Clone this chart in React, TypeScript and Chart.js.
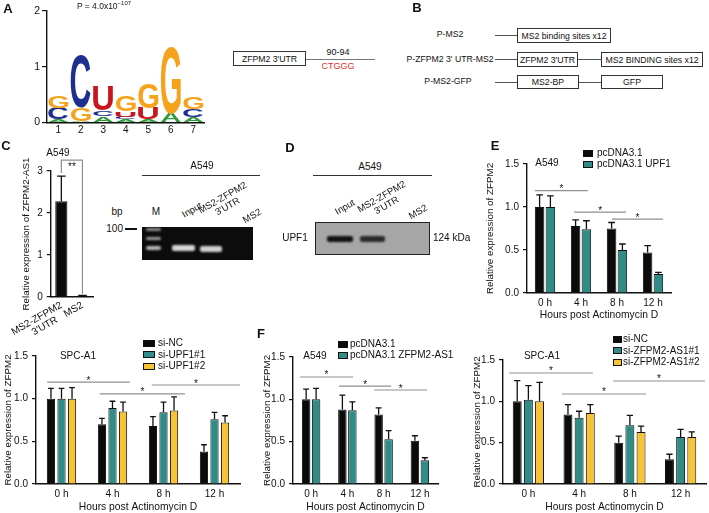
import React, { useEffect, useRef } from "react";
import { Chart, registerables } from "chart.js";

Chart.register(...registerables);

const FONT = '"Liberation Sans", Arial, Helvetica, sans-serif';
const INK = "#111111";
const BLACK_BAR = "#0b0b0b";
const TEAL = "#2f8c86";
const YELLOW = "#f6c434";
const SIG_GRAY = "#8f8f8f";
const LETTER_COLORS: Record<string, string> = { A: "#2f9a3a", C: "#1f2f8f", G: "#f5a31c", U: "#c8161e" };

// ---------- Panel A: sequence logo ----------
const logoPositions = ["1", "2", "3", "4", "5", "6", "7"];
const logoLetters = [
  ["A", "C", "G"],
  ["A", "G", "C"],
  ["A", "C", "U"],
  ["A", "C", "U", "G"],
  ["A", "U", "G"],
  ["A", "G"],
  ["A", "C", "G"],
];
const logoHeights = [
  [0.06, 0.2, 0.22],
  [0.02, 0.24, 0.95],
  [0.11, 0.1, 0.43],
  [0.06, 0.04, 0.1, 0.27],
  [0.06, 0.2, 0.44],
  [0.16, 1.2],
  [0.1, 0.14, 0.21],
];

// ---------- Panel C: bar ----------
const cCategories: (string | string[])[] = [["MS2-ZFPM2", "3'UTR    "], "MS2"];
const cMeans = [2.28, 0.03];
const cErrors = [0.6, 0.01];

// ---------- time-course panels ----------
const hourLabels = ["0 h", "4 h", "8 h", "12 h"];

const eNames = ["pcDNA3.1", "pcDNA3.1 UPF1"];
const eCtrl = [1.0, 0.78, 0.75, 0.47];
const eCtrlErr = [0.14, 0.07, 0.07, 0.08];
const eUpf1 = [1.0, 0.74, 0.5, 0.22];
const eUpf1Err = [0.13, 0.1, 0.07, 0.02];

const gNames = ["si-NC", "si-UPF1#1", "si-UPF1#2"];
const gNC = [1.0, 0.7, 0.68, 0.38];
const gNCErr = [0.12, 0.07, 0.11, 0.08];
const gU1 = [1.0, 0.89, 0.84, 0.76];
const gU1Err = [0.12, 0.08, 0.12, 0.08];
const gU2 = [1.0, 0.85, 0.86, 0.72];
const gU2Err = [0.13, 0.11, 0.16, 0.08];

const fNames = ["pcDNA3.1", "pcDNA3.1 ZFPM2-AS1"];
const fCtrl = [1.0, 0.88, 0.82, 0.51];
const fCtrlErr = [0.12, 0.17, 0.08, 0.06];
const fAS1 = [1.0, 0.87, 0.53, 0.28];
const fAS1Err = [0.13, 0.1, 0.1, 0.03];

const hNames = ["si-NC", "si-ZFPM2-AS1#1", "si-ZFPM2-AS1#2"];
const hNC = [1.0, 0.84, 0.5, 0.3];
const hNCErr = [0.25, 0.12, 0.08, 0.06];
const hA1 = [1.02, 0.8, 0.71, 0.57];
const hA1Err = [0.17, 0.08, 0.12, 0.09];
const hA2 = [1.0, 0.86, 0.63, 0.57];
const hA2Err = [0.23, 0.1, 0.07, 0.06];

type Series = { name: string; values: number[]; errors: number[]; color: string };
type Sig = { from: number; to: number; y: number; text: string };
type Bracket = { from: number; to: number; y: number; leftEnd: number; rightEnd: number; text: string };
type BarSpec = {
  canvas: [number, number, number, number];
  area: [number, number, number, number];
  labels: (string | string[])[];
  series: Series[];
  yMax: number;
  yStep: number;
  yDec: number;
  yTitle: string;
  yTitleX: number;
  xTitle?: string;
  xTitleY?: number;
  catPct: number;
  barPct: number;
  xRotation?: number;
  sigs?: Sig[];
  bracket?: Bracket;
};

function makeBarChart(canvas: HTMLCanvasElement, p: BarSpec) {
  const [cx, cy, cw, ch] = p.canvas;
  const [L, T, R, B] = p.area;
  const tickSize = 10;
  const titleSize = 9.8;
  const titleLH = titleSize * 1.2;
  const annot = {
    id: "annot",
    afterDatasetsDraw(chart: any) {
      const ctx = chart.ctx as CanvasRenderingContext2D;
      const xs = chart.scales.x;
      const ys = chart.scales.y;
      ctx.save();
      p.series.forEach((s, di) => {
        const meta = chart.getDatasetMeta(di);
        meta.data.forEach((el: any, i: number) => {
          const err = s.errors[i];
          if (!err) return;
          const yTop = ys.getPixelForValue(s.values[i] + err);
          const yBar = ys.getPixelForValue(s.values[i]);
          const cap = Math.max(4, el.width * 0.7);
          ctx.strokeStyle = INK;
          ctx.lineWidth = 1.3;
          ctx.beginPath();
          ctx.moveTo(el.x, yBar);
          ctx.lineTo(el.x, yTop);
          ctx.moveTo(el.x - cap / 2, yTop);
          ctx.lineTo(el.x + cap / 2, yTop);
          ctx.stroke();
        });
      });
      (p.sigs || []).forEach((s) => {
        const x1 = xs.getPixelForValue(s.from);
        const x2 = xs.getPixelForValue(s.to);
        const y = ys.getPixelForValue(s.y);
        ctx.strokeStyle = SIG_GRAY;
        ctx.lineWidth = 1.2;
        ctx.beginPath();
        ctx.moveTo(x1, y);
        ctx.lineTo(x2, y);
        ctx.stroke();
        ctx.fillStyle = INK;
        ctx.font = `10px ${FONT}`;
        ctx.textAlign = "center";
        ctx.textBaseline = "alphabetic";
        ctx.fillText(s.text, (x1 + x2) / 2, y + 1.5);
      });
      if (p.bracket) {
        const b = p.bracket;
        const x1 = xs.getPixelForValue(b.from);
        const x2 = xs.getPixelForValue(b.to);
        const y = ys.getPixelForValue(b.y);
        ctx.strokeStyle = SIG_GRAY;
        ctx.lineWidth = 1.2;
        ctx.beginPath();
        ctx.moveTo(x1, ys.getPixelForValue(b.leftEnd));
        ctx.lineTo(x1, y);
        ctx.lineTo(x2, y);
        ctx.lineTo(x2, ys.getPixelForValue(b.rightEnd));
        ctx.stroke();
        ctx.fillStyle = INK;
        ctx.font = `10px ${FONT}`;
        ctx.textAlign = "center";
        ctx.textBaseline = "alphabetic";
        ctx.fillText(b.text, (x1 + x2) / 2, y + 10);
      }
      ctx.restore();
    },
  };
  const rot = p.xRotation || 0;
  return new Chart(canvas, {
    type: "bar",
    data: {
      labels: p.labels as any,
      datasets: p.series.map((s) => ({
        label: s.name,
        data: s.values,
        backgroundColor: s.color,
        borderColor: INK,
        borderWidth: 1,
        categoryPercentage: p.catPct,
        barPercentage: p.barPct,
      })),
    },
    options: {
      responsive: false,
      animation: false,
      devicePixelRatio: 1,
      layout: { padding: { left: 0, top: T - cy, right: cx + cw - R, bottom: 0 } },
      plugins: { legend: { display: false }, tooltip: { enabled: false }, title: { display: false } },
      scales: {
        x: {
          grid: { display: false, drawTicks: false },
          border: { display: true, color: INK, width: 1.4 },
          ticks: {
            color: INK,
            font: { family: FONT, size: tickSize, lineHeight: 1.05 },
            padding: rot ? 3 : 5,
            autoSkip: false,
            maxRotation: rot,
            minRotation: rot,
          },
          title: p.xTitle
            ? {
                display: true,
                text: p.xTitle,
                color: INK,
                font: { family: FONT, size: 10.3 },
                padding: { top: 0, bottom: Math.max(0, cy + ch - (p.xTitleY || 0) - 6) },
              }
            : { display: false },
          afterFit: (s: any) => {
            s.height = cy + ch - B;
          },
        },
        y: {
          min: 0,
          max: p.yMax,
          grid: { display: true, drawOnChartArea: false, drawTicks: true, tickLength: 4, color: INK, lineWidth: 1.2 },
          border: { display: true, color: INK, width: 1.4 },
          ticks: {
            stepSize: p.yStep,
            color: INK,
            font: { family: FONT, size: tickSize },
            padding: 4,
            callback: (v: any) => Number(v).toFixed(p.yDec),
          },
          title: {
            display: true,
            text: p.yTitle,
            color: INK,
            font: { family: FONT, size: titleSize },
            padding: { top: p.yTitleX - cx - titleLH / 2, bottom: 0 },
          },
          afterFit: (s: any) => {
            s.width = L - cx;
          },
        },
      },
    } as any,
    plugins: [annot],
  });
}

function drawLetter(ctx: CanvasRenderingContext2D, ch: string, x: number, y: number, w: number, h: number, color: string) {
  if (h < 0.5 || w < 0.5) return;
  ctx.save();
  ctx.font = `bold 100px ${FONT}`;
  ctx.textAlign = "left";
  ctx.textBaseline = "alphabetic";
  const m = ctx.measureText(ch);
  const gw = m.actualBoundingBoxLeft + m.actualBoundingBoxRight;
  const gh = m.actualBoundingBoxAscent + m.actualBoundingBoxDescent;
  ctx.translate(x, y);
  ctx.scale(w / gw, h / gh);
  ctx.fillStyle = color;
  ctx.fillText(ch, m.actualBoundingBoxLeft, m.actualBoundingBoxAscent);
  ctx.restore();
}

function makeLogo(canvas: HTMLCanvasElement) {
  const [cx, cy, cw, ch] = [0, 0, 230, 140];
  const [L, T, R, B] = [47, 11, 204.5, 122.5];
  const nLayers = Math.max(...logoHeights.map((a) => a.length));
  const datasets = Array.from({ length: nLayers }, (_, k) => ({
    label: "layer" + k,
    data: logoHeights.map((a) => a[k] ?? 0),
    backgroundColor: "rgba(0,0,0,0)",
    borderWidth: 0,
    categoryPercentage: 0.96,
    barPercentage: 0.92,
  }));
  const letters = {
    id: "letters",
    afterDatasetsDraw(chart: any) {
      const ctx = chart.ctx as CanvasRenderingContext2D;
      for (let k = 0; k < nLayers; k++) {
        const meta = chart.getDatasetMeta(k);
        meta.data.forEach((el: any, i: number) => {
          const letter = logoLetters[i][k];
          if (!letter) return;
          const top = Math.min(el.y, el.base);
          const h = Math.abs(el.base - el.y);
          drawLetter(ctx, letter, el.x - el.width / 2, top, el.width, h, LETTER_COLORS[letter]);
        });
      }
    },
  };
  return new Chart(canvas, {
    type: "bar",
    data: { labels: logoPositions, datasets },
    options: {
      responsive: false,
      animation: false,
      devicePixelRatio: 1,
      layout: { padding: { left: 0, top: T - cy, right: cx + cw - R, bottom: 0 } },
      plugins: { legend: { display: false }, tooltip: { enabled: false } },
      scales: {
        x: {
          stacked: true,
          grid: { display: false, drawTicks: false },
          border: { display: true, color: INK, width: 1.4 },
          ticks: { color: INK, font: { family: FONT, size: 10 }, padding: 2 },
          afterFit: (s: any) => {
            s.height = cy + ch - B;
          },
        },
        y: {
          stacked: true,
          min: 0,
          max: 2,
          grid: { display: true, drawOnChartArea: false, tickLength: 5, color: INK, lineWidth: 1.2 },
          border: { display: true, color: INK, width: 1.4 },
          ticks: { stepSize: 1, color: INK, font: { family: FONT, size: 10.5 }, padding: 2 },
          afterFit: (s: any) => {
            s.width = L - cx;
          },
        },
      },
    } as any,
    plugins: [letters],
  });
}

function ChartCanvas({ x, y, w, h, make }: { x: number; y: number; w: number; h: number; make: (c: HTMLCanvasElement) => Chart }) {
  const ref = useRef<HTMLCanvasElement>(null);
  useEffect(() => {
    const chart = make(ref.current as HTMLCanvasElement);
    return () => chart.destroy();
  }, []);
  return <canvas ref={ref} width={w} height={h} style={{ position: "absolute", left: x, top: y, width: w, height: h }} />;
}

function BarPanel({ spec }: { spec: BarSpec }) {
  const [x, y, w, h] = spec.canvas;
  return <ChartCanvas x={x} y={y} w={w} h={h} make={(c) => makeBarChart(c, spec)} />;
}

function Txt({
  x,
  y,
  t,
  size = 10,
  bold = false,
  color = INK,
  anchor = "middle",
  rot = 0,
}: {
  x: number;
  y: number;
  t: React.ReactNode;
  size?: number;
  bold?: boolean;
  color?: string;
  anchor?: "start" | "middle" | "end";
  rot?: number;
}) {
  const tx = anchor === "middle" ? "-50%" : anchor === "end" ? "-100%" : "0";
  return (
    <div
      style={{
        position: "absolute",
        left: x,
        top: y,
        transform: `translate(${tx}, -50%) rotate(${rot}deg)`,
        fontFamily: FONT,
        fontSize: size,
        fontWeight: bold ? 700 : 400,
        color,
        whiteSpace: "pre",
        lineHeight: 1.05,
        textAlign: "center",
      }}
    >
      {t}
    </div>
  );
}

function Rect({ x1, y1, x2, y2, style }: { x1: number; y1: number; x2: number; y2: number; style?: React.CSSProperties }) {
  return <div style={{ position: "absolute", left: x1, top: y1, width: x2 - x1, height: y2 - y1, boxSizing: "border-box", ...style }} />;
}

function HLine({ x1, x2, y, color = "#555", w = 1 }: { x1: number; x2: number; y: number; color?: string; w?: number }) {
  return <div style={{ position: "absolute", left: x1, top: y - w / 2, width: x2 - x1, height: w, background: color }} />;
}

function BoxLabel({ x1, y1, x2, y2, t }: { x1: number; y1: number; x2: number; y2: number; t: string }) {
  return (
    <div
      style={{
        position: "absolute",
        left: x1,
        top: y1,
        width: x2 - x1,
        height: y2 - y1,
        boxSizing: "border-box",
        border: "1.2px solid #333",
        display: "flex",
        alignItems: "center",
        justifyContent: "center",
        fontFamily: FONT,
        fontSize: 8.7,
        color: INK,
        whiteSpace: "pre",
      }}
    >
      {t}
    </div>
  );
}

function Legend({ names, colors, x, sw, sh, tx, ys }: { names: string[]; colors: string[]; x: number; sw: number; sh: number; tx: number; ys: number[] }) {
  return (
    <>
      {names.map((n, i) => (
        <React.Fragment key={n + i}>
          <Rect x1={x} y1={ys[i] - sh / 2} x2={x + sw} y2={ys[i] + sh / 2} style={{ background: colors[i], border: "1px solid #111" }} />
          <Txt x={tx} y={ys[i]} t={n} anchor="start" size={10} />
        </React.Fragment>
      ))}
    </>
  );
}

const cSpec: BarSpec = {
  canvas: [0, 145, 105, 190],
  area: [37, 171, 93, 297],
  labels: cCategories,
  series: [{ name: "ZFPM2-AS1", values: cMeans, errors: cErrors, color: BLACK_BAR }],
  yMax: 3,
  yStep: 1,
  yDec: 0,
  yTitle: "Relative expression of ZFPM2-AS1",
  yTitleX: 13,
  catPct: 0.8,
  barPct: 0.72,
  xRotation: 30,
  bracket: { from: 0, to: 1, y: 3.26, leftEnd: 2.95, rightEnd: 0.08, text: "**" },
};

const eSpec: BarSpec = {
  canvas: [482, 140, 227, 182],
  area: [527, 164, 671, 293],
  labels: hourLabels,
  series: [
    { name: eNames[0], values: eCtrl, errors: eCtrlErr, color: BLACK_BAR },
    { name: eNames[1], values: eUpf1, errors: eUpf1Err, color: TEAL },
  ],
  yMax: 1.5,
  yStep: 0.5,
  yDec: 1,
  yTitle: "Relative expression of ZFPM2",
  yTitleX: 490,
  xTitle: "Hours post Actinomycin D",
  xTitleY: 315,
  catPct: 0.6,
  barPct: 0.88,
  sigs: [
    { from: -0.28, to: 1.19, y: 1.19, text: "*" },
    { from: 0.81, to: 2.25, y: 0.94, text: "*" },
    { from: 1.86, to: 3.28, y: 0.86, text: "*" },
  ],
};

const gSpec: BarSpec = {
  canvas: [0, 330, 248, 183],
  area: [36, 356, 240, 484],
  labels: hourLabels,
  series: [
    { name: gNames[0], values: gNC, errors: gNCErr, color: BLACK_BAR },
    { name: gNames[1], values: gU1, errors: gU1Err, color: TEAL },
    { name: gNames[2], values: gU2, errors: gU2Err, color: YELLOW },
  ],
  yMax: 1.5,
  yStep: 0.5,
  yDec: 1,
  yTitle: "Relative expression of ZFPM2",
  yTitleX: 8,
  xTitle: "Hours post Actinomycin D",
  xTitleY: 507,
  catPct: 0.62,
  barPct: 0.78,
  sigs: [
    { from: -0.28, to: 1.34, y: 1.195, text: "*" },
    { from: 0.75, to: 2.42, y: 1.055, text: "*" },
    { from: 1.77, to: 3.5, y: 1.16, text: "*" },
  ],
};

const fSpec: BarSpec = {
  canvas: [259, 330, 201, 183],
  area: [293, 357, 438, 484],
  labels: hourLabels,
  series: [
    { name: fNames[0], values: fCtrl, errors: fCtrlErr, color: BLACK_BAR },
    { name: fNames[1], values: fAS1, errors: fAS1Err, color: TEAL },
  ],
  yMax: 1.5,
  yStep: 0.5,
  yDec: 1,
  yTitle: "Relative expression of ZFPM2",
  yTitleX: 267,
  xTitle: "Hours post Actinomycin D",
  xTitleY: 507,
  catPct: 0.55,
  barPct: 0.85,
  sigs: [
    { from: -0.31, to: 1.16, y: 1.264, text: "*" },
    { from: 0.77, to: 2.21, y: 1.157, text: "*" },
    { from: 1.74, to: 3.2, y: 1.11, text: "*" },
  ],
};

const hSpec: BarSpec = {
  canvas: [469, 330, 240, 183],
  area: [503, 360, 706, 484],
  labels: hourLabels,
  series: [
    { name: hNames[0], values: hNC, errors: hNCErr, color: BLACK_BAR },
    { name: hNames[1], values: hA1, errors: hA1Err, color: TEAL },
    { name: hNames[2], values: hA2, errors: hA2Err, color: YELLOW },
  ],
  yMax: 1.5,
  yStep: 0.5,
  yDec: 1,
  yTitle: "Relative expression of ZFPM2",
  yTitleX: 477,
  xTitle: "Hours post Actinomycin D",
  xTitleY: 507,
  catPct: 0.66,
  barPct: 0.8,
  sigs: [
    { from: -0.38, to: 1.27, y: 1.343, text: "*" },
    { from: 0.66, to: 2.32, y: 1.089, text: "*" },
    { from: 1.67, to: 3.48, y: 1.246, text: "*" },
  ],
};

function Blur({ x1, y1, x2, y2, color, blur }: { x1: number; y1: number; x2: number; y2: number; color: string; blur: number }) {
  return <Rect x1={x1} y1={y1} x2={x2} y2={y2} style={{ background: color, filter: `blur(${blur}px)`, borderRadius: 2 }} />;
}

export default function App() {
  useEffect(() => {
    document.body.style.margin = "0";
  }, []);
  return (
    <div style={{ position: "absolute", left: 0, top: 0, width: 709, height: 513, background: "#fff", overflow: "hidden" }}>
      {/* Panel A */}
      <ChartCanvas x={0} y={0} w={230} h={140} make={makeLogo} />
      <Txt x={8} y={9} t="A" size={13} bold />
      <Txt x={104} y={5} size={8.5} t={<span>P = 4.0x10<sup style={{ fontSize: 6, verticalAlign: "4px" }}>−107</sup></span>} />
      <BoxLabel x1={233} y1={51} x2={306} y2={66} t="ZFPM2 3'UTR" />
      <HLine x1={306} x2={375} y={59.5} color="#777" />
      <Txt x={338} y={53} t="90-94" size={9} />
      <Txt x={338} y={67} t="CTGGG" size={9} color="#e3302a" />

      {/* Panel B */}
      <Txt x={417} y={8} t="B" size={13} bold />
      <Txt x={450} y={35} t="P-MS2" size={8.7} />
      <HLine x1={495} x2={517} y={35} color="#555" />
      <BoxLabel x1={517} y1={28} x2={611} y2={43} t="MS2 binding sites x12" />
      <Txt x={450} y={59.5} t="P-ZFPM2 3' UTR-MS2" size={8.7} />
      <HLine x1={495} x2={517} y={59.5} color="#555" />
      <BoxLabel x1={517} y1={52} x2={578} y2={67} t="ZFPM2 3'UTR" />
      <HLine x1={578} x2={601} y={59.5} color="#555" />
      <BoxLabel x1={601} y1={52} x2={703} y2={67} t="MS2 BINDING sites x12" />
      <Txt x={448} y={82} t="P-MS2-GFP" size={8.7} />
      <HLine x1={495} x2={517} y={82} color="#555" />
      <BoxLabel x1={517} y1={75} x2={579} y2={89} t="MS2-BP" />
      <HLine x1={579} x2={601} y={82} color="#555" />
      <BoxLabel x1={601} y1={75} x2={663} y2={89} t="GFP" />

      {/* Panel C */}
      <BarPanel spec={cSpec} />
      <Txt x={6} y={146} t="C" size={13} bold />
      <Txt x={58} y={153} t="A549" size={10} />
      <Txt x={202} y={166} t="A549" size={10} />
      <HLine x1={142} x2={260} y={175} color="#333" />
      <Txt x={117} y={212} t="bp" size={10} />
      <Txt x={156} y={212} t="M" size={10} />
      <Txt x={123} y={229} t="100" size={10} anchor="end" />
      <HLine x1={125} x2={137} y={229} color="#111" w={2} />
      <Txt x={192} y={210} t="Input" size={9.5} rot={-30} />
      <Txt x={225} y={202} t={"MS2-ZFPM2\n3'UTR"} size={9.5} rot={-30} />
      <Txt x={252} y={216} t="MS2" size={9.5} rot={-30} />
      <Rect x1={142} y1={227} x2={253} y2={260} style={{ background: "#0c0c0c" }} />
      <Blur x1={146} y1={228} x2={161} y2={231} color="#8a8a8a" blur={0.8} />
      <Blur x1={146} y1={237} x2={161} y2={240} color="#9a9a9a" blur={0.8} />
      <Blur x1={146} y1={246} x2={161} y2={250} color="#b5b5b5" blur={0.8} />
      <Blur x1={172} y1={245} x2={195} y2={251} color="#d6d6d6" blur={1.3} />
      <Blur x1={200} y1={245.5} x2={222} y2={251.5} color="#d0d0d0" blur={1.3} />

      {/* Panel D */}
      <Txt x={290} y={148} t="D" size={13} bold />
      <Txt x={370} y={167} t="A549" size={10} />
      <HLine x1={313} x2={432} y={175} color="#333" />
      <Txt x={345} y={207} t="Input" size={9.5} rot={-30} />
      <Txt x={384} y={201} t={"MS2-ZFPM2\n3'UTR"} size={9.5} rot={-30} />
      <Txt x={418} y={212} t="MS2" size={9.5} rot={-30} />
      <Rect x1={315} y1={222} x2={430} y2={255} style={{ background: "#a6a6a6", border: "1.5px solid #222" }} />
      <Blur x1={327} y1={235.5} x2={353} y2={242} color="#121212" blur={1} />
      <Blur x1={360} y1={236} x2={385} y2={241.5} color="#2a2a2a" blur={1} />
      <Txt x={295} y={238} t="UPF1" size={10} />
      <Txt x={433} y={238} t="124 kDa" size={10} anchor="start" />

      {/* Panel E */}
      <BarPanel spec={eSpec} />
      <Txt x={495} y={146} t="E" size={13} bold />
      <Txt x={547} y={163} t="A549" size={10} />
      <Legend names={eNames} colors={[BLACK_BAR, TEAL]} x={583} sw={10} sh={7} tx={597} ys={[153, 164]} />

      {/* bottom-left */}
      <BarPanel spec={gSpec} />
      <Txt x={78} y={356} t="SPC-A1" size={10} />
      <Legend names={gNames} colors={[BLACK_BAR, TEAL, YELLOW]} x={143} sw={12} sh={7} tx={158} ys={[343, 354.5, 366]} />

      {/* Panel F */}
      <BarPanel spec={fSpec} />
      <Txt x={261} y={334} t="F" size={13} bold />
      <Txt x={315} y={356} t="A549" size={10} />
      <Legend names={fNames} colors={[BLACK_BAR, TEAL]} x={338} sw={10} sh={7} tx={350} ys={[344, 355]} />

      {/* bottom-right */}
      <BarPanel spec={hSpec} />
      <Txt x={542} y={356} t="SPC-A1" size={10} />
      <Legend names={hNames} colors={[BLACK_BAR, TEAL, YELLOW]} x={613} sw={9} sh={7} tx={623} ys={[339, 350.5, 362]} />
    </div>
  );
}
